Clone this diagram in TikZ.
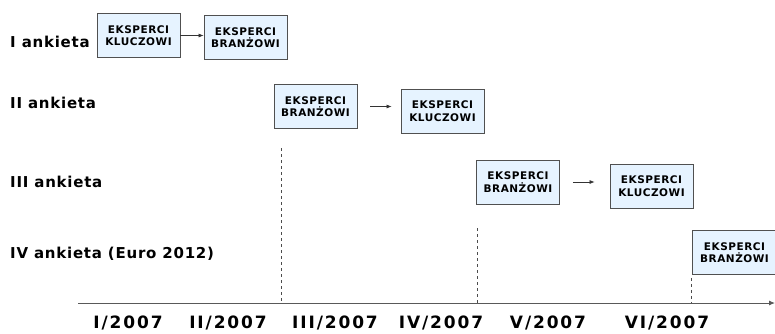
\documentclass[tikz,border=0pt]{standalone}
\usepackage{fontspec}
\setmainfont{DejaVu Sans}
\newfontfamily\szeroka[LetterSpace=11]{DejaVu Sans}
\newfontfamily\srednia[LetterSpace=5]{DejaVu Sans}
\usetikzlibrary{arrows.meta}
\definecolor{jasnyniebieski}{HTML}{E6F3FF}
\definecolor{ramka}{HTML}{505050}
\begin{document}
\begin{tikzpicture}[
    x=1pt, y=-1pt,
    % Styles
    ekspert/.style={rectangle, draw=ramka, fill=jasnyniebieski, line width=0.8pt, minimum width=83pt, minimum height=44pt, inner sep=1pt, align=center, font=\srednia\bfseries\fontsize{10.5}{12.5}\selectfont},
    etykieta/.style={anchor=west, inner sep=0pt, font=\srednia\bfseries\fontsize{15}{17}\selectfont},
    miesiac/.style={inner sep=0pt, font=\szeroka\bfseries\fontsize{17}{19}\selectfont},
    strzalka/.style={-{Latex[length=5pt,width=4pt]}, line width=0.7pt, draw=black!80},
    przerywana/.style={dashed, line width=0.6pt, draw=black!70},
    os/.style={-{Latex[length=6pt,width=5pt]}, line width=1pt, draw=black!65}
]
\useasboundingbox (0,0) rectangle (775,333);

% --- ETYKIETY ANKIET ---
\node[etykieta] (a1) at (10, 42) {I ankieta};
\node[etykieta] (a2) at (10, 103) {II ankieta};
\node[etykieta] (a3) at (10, 182) {III ankieta};
\node[etykieta] (a4) at (10, 254) {IV ankieta (Euro 2012)};

% --- I ANKIETA ---
\node[ekspert] (k1) at (138.5, 35.5) {EKSPERCI\\KLUCZOWI};
\node[ekspert] (b1) at (245.5, 37.5) {EKSPERCI\\BRANŻOWI};
\draw[strzalka] (k1.east) -- (k1.east -| b1.west);

% --- II ANKIETA ---
\node[ekspert] (b2) at (315.5, 106.5) {EKSPERCI\\BRANŻOWI};
\node[ekspert] (k2) at (442.5, 111) {EKSPERCI\\KLUCZOWI};
\draw[strzalka, shorten <=13pt, shorten >=9pt] (b2.east) -- (b2.east -| k2.west);

% --- III ANKIETA ---
\node[ekspert] (b3) at (518, 182) {EKSPERCI\\BRANŻOWI};
\node[ekspert] (k3) at (651.5, 186) {EKSPERCI\\KLUCZOWI};
\draw[strzalka, shorten <=13pt, shorten >=15pt] (b3.east) -- (b3.east -| k3.west);

% --- IV ANKIETA ---
\node[ekspert, minimum width=85pt] (b4) at (734.5, 252.5) {EKSPERCI\\BRANŻOWI};

% --- OS CZASU ---
\coordinate (os0) at (78, 303);
\coordinate (os1) at (775, 303);
\draw[os] (os0) -- (os1);

\coordinate (g2) at (281, 148);
\coordinate (t2) at (281, 303);
\coordinate (g3) at (477, 228);
\coordinate (t3) at (477, 303);
\coordinate (t4) at (b4.south west |- os0);
\draw[przerywana] (g2) -- (t2);
\draw[przerywana] (g3) -- (t3);
\draw[przerywana] ([yshift=-3pt]b4.south west) -- (t4);

% --- MIESIACE ---
\node[miesiac] (m1) at (128, 323) {I/2007};
\node[miesiac] (m2) at (228, 323) {II/2007};
\node[miesiac] (m3) at (335, 323) {III/2007};
\node[miesiac] (m4) at (441, 323) {IV/2007};
\node[miesiac] (m5) at (548, 323) {V/2007};
\node[miesiac] (m6) at (667, 323) {VI/2007};

\end{tikzpicture}
\end{document}
